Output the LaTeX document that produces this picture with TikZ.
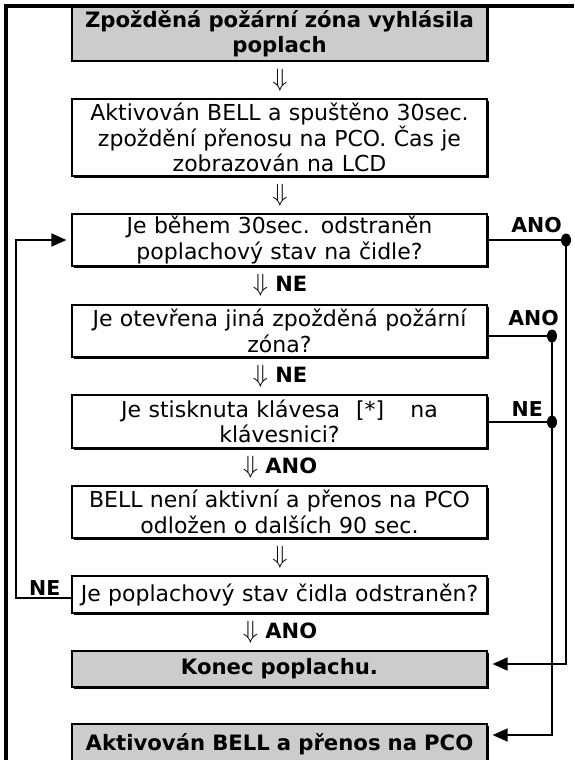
\documentclass[tikz,border=0pt]{standalone}
\usepackage{fontspec}
\setmainfont{DejaVu Sans}
\usetikzlibrary{arrows.meta,shadows}
\definecolor{boxgray}{RGB}{204,204,204}

\begin{document}
\begin{tikzpicture}[x=1pt, y=-1pt,
  box/.style={draw, line width=1.2pt, fill=white, text width=407pt, inner xsep=4pt, inner ysep=0pt, align=center,
    font=\fontsize{22}{25.5}\selectfont,
    drop shadow={shadow xshift=1.5pt, shadow yshift=-1.5pt, fill=black, opacity=1}},
  greybox/.style={box, fill=boxgray, font=\bfseries\fontsize{21.2}{25.5}\selectfont},
  down/.style={inner sep=0pt, font=\bfseries\fontsize{21}{25.5}\selectfont},
  lab/.style={inner sep=0pt, font=\bfseries\fontsize{20.5}{24}\selectfont},
  wire/.style={line width=1.5pt},
  arr/.style={line width=1.5pt, -{Triangle[length=15pt,width=13pt]}, shorten >=5pt}]

\useasboundingbox (0,0) rectangle (574,760);

\node[greybox, minimum height=55pt] (0) at (279.5, 33.5) {Zpožděná požární zóna vyhlásila\\poplach};
\node[box, minimum height=77pt] (1) at (279.5, 137.5) {Aktivován BELL a spuštěno 30sec.\\zpoždění přenosu na PCO. Čas je\\zobrazován na LCD};
\node[box, minimum height=52pt] (2) at (279.5, 240) {Je během 30sec. odstraněn\\poplachový stav na čidle?};
\node[box, minimum height=52pt] (3) at (279.5, 331) {Je otevřena jiná zpožděná požární\\zóna?};
\node[box, minimum height=53pt] (4) at (279.5, 421.5) {Je stisknuta klávesa\hspace{16pt}[*]\hspace{26pt}na\\klávesnici?};
\node[box, minimum height=52pt] (5) at (279.5, 512) {BELL není aktivní a přenos na PCO\\odložen o dalších 90 sec.};
\node[box, minimum height=37pt] (6) at (279.5, 594.5) {Je poplachový stav čidla odstraněn?};
\node[greybox, minimum height=36pt] (7) at (279.5, 669) {Konec poplachu.};
\node[greybox, minimum height=40pt] (8) at (279.5, 744) {Aktivován BELL a přenos na PCO};

\node[down] (9) at (280, 80) {\fontsize{26}{26}\selectfont$\Downarrow$};
\node[down] (10) at (280, 195) {\fontsize{26}{26}\selectfont$\Downarrow$};
\node[down] (11) at (280, 285.5) {{\fontsize{26}{26}\selectfont$\Downarrow$} NE};
\node[down] (12) at (280, 376) {{\fontsize{26}{26}\selectfont$\Downarrow$} NE};
\node[down] (13) at (280, 467) {{\fontsize{26}{26}\selectfont$\Downarrow$} ANO};
\node[down] (14) at (280, 557) {\fontsize{26}{26}\selectfont$\Downarrow$};
\node[down] (15) at (280, 632) {{\fontsize{26}{26}\selectfont$\Downarrow$} ANO};

\node[lab, anchor=south east] (16) at (562, 233) {ANO};
\node[lab, anchor=south east] (17) at (559, 326) {ANO};
\node[lab, anchor=south east] (18) at (543, 417) {NE};
\node[lab, anchor=south west] (19) at (29, 596) {NE};

\coordinate (d0) at (566, 240);
\coordinate (d1) at (552, 336);
\coordinate (d2) at (552, 422);
\coordinate (back0) at (16, 598);
\coordinate (back1) at (16, 240);

\draw[wire] (2.east) -- (d0);
\draw[wire] (3.east |- d1) -- (d1);
\draw[wire] (4.east |- d2) -- (d2);
\draw[arr] (d0) |- ([yshift=5pt]7.east);
\draw[arr] (d1) |- ([yshift=9pt]8.east);
\draw[arr] (6.west |- back0) -- (back0) -- (back1) -- (2.west);

\fill (d0) ellipse [x radius=5pt, y radius=6.5pt];
\fill (d1) ellipse [x radius=5pt, y radius=6.5pt];
\fill (d2) ellipse [x radius=5pt, y radius=6.5pt];

\draw[line width=4pt] (6, 760) -- (6, 6) -- (574, 6);
\end{tikzpicture}
\end{document}
